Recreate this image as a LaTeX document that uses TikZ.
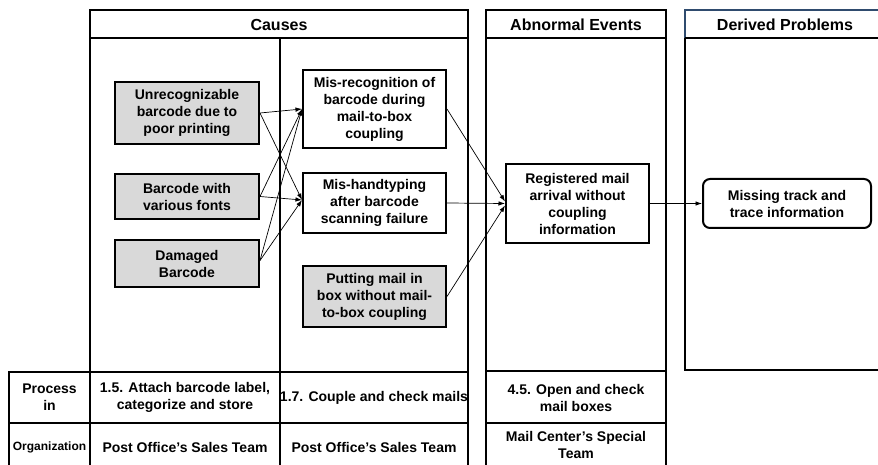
\documentclass[tikz,border=0pt]{standalone}
\usepackage{fontspec}
\setmainfont{Liberation Sans}
\usetikzlibrary{arrows.meta}
\definecolor{boxgray}{RGB}{217,217,217}
\definecolor{headblue}{RGB}{47,75,110}
\begin{document}
\begin{tikzpicture}[x=1pt,y=-1pt,
  frame/.style={line width=1.8pt},
  txt/.style={align=center, font=\bfseries\fontsize{14}{17}\selectfont},
  cause/.style={txt, draw, line width=2pt, fill=boxgray, inner sep=0pt},
  plainbox/.style={txt, draw, line width=2pt, fill=white, inner sep=0pt},
  hdr/.style={font=\bfseries\fontsize{16}{19}\selectfont},
  arr/.style={-{Latex[length=6.5pt,width=4.5pt]}, line width=0.7pt}]
\useasboundingbox (0,0) rectangle (878,465);

% Causes panel
\draw[frame] (90,465) -- (90,10) -- (468,10) -- (468,465);
\draw[frame] (90,38) -- (468,38);
\draw[frame] (280,38) -- (280,465);
\draw[frame] (9,465) -- (9,372) -- (468,372);
\draw[frame] (9,423) -- (468,423);
% Abnormal events panel
\draw[frame] (486,465) -- (486,10) -- (666,10) -- (666,465);
\draw[line width=2.6pt] (486,38) -- (666,38);
\draw[frame] (486,371) -- (666,371);
\draw[frame] (486,423) -- (666,423);
% Derived problems panel
\draw[frame] (685,38) -- (685,370) -- (880,370);
\draw[line width=1.4pt, headblue] (685,38) -- (685,10) -- (880,10);
\draw[line width=2.6pt] (685,38) -- (880,38);

% Headers
\node[hdr] (hc) at (279,25) {Causes};
\node[hdr] (ha) at (576,25) {Abnormal Events};
\node[hdr] (hd) at (785,25) {Derived Problems};

% Cause nodes
\node[cause, minimum width=144pt, minimum height=62pt] (n1) at (187,113) {Unrecognizable\\barcode due to\\poor printing};
\node[cause, minimum width=144pt, minimum height=45pt] (n2) at (187,196.5) {Barcode with\\various fonts};
\node[cause, minimum width=144pt, minimum height=47pt] (n3) at (187,263.5) {Damaged\\Barcode};
\node[plainbox, minimum width=143pt, minimum height=78pt] (m1) at (374.5,109) {Mis-recognition of\\barcode during\\mail-to-box\\coupling};
\node[plainbox, minimum width=143pt, minimum height=60pt] (m2) at (374.5,203) {Mis-handtyping\\after barcode\\scanning failure};
\node[cause, minimum width=143pt, minimum height=61pt] (m3) at (374.5,296.5) {Putting mail in\\box without mail-\\to-box coupling};
\node[plainbox, minimum width=143pt, minimum height=79pt] (r) at (577.5,203.5) {Registered mail\\arrival without\\coupling\\information};
\node[plainbox, rounded corners=7pt, minimum width=168pt, minimum height=49pt] (d) at (787,203.5) {Missing track and\\trace information};

% Arrows
\draw[arr] (n1.east) -- (m1.west);
\draw[arr] (n1.east) -- ([yshift=3pt]m2.west);
\draw[arr] (n2.east) -- (m1.west);
\draw[arr] (n2.east) -- ([yshift=3pt]m2.west);
\draw[arr] ([yshift=3pt]n3.east) -- (m1.west);
\draw[arr] ([yshift=3pt]n3.east) -- ([yshift=3pt]m2.west);
\draw[arr] (m1.east) -- ([yshift=2pt]r.west);
\draw[arr] (m2.east) -- (r.west);
\draw[arr] (m3.east) -- ([yshift=-2pt]r.west);
\draw[arr] (r.east) -- (d.west);

% Process / organization rows
\node[txt] (p0) at (49.5,397) {Process\\in};
\node[txt] (p1) at (185,397) {1.5. Attach barcode label,\\categorize and store};
\node[txt] (p2) at (374,398) {1.7. Couple and check mails};
\node[txt] (p3) at (576,398) {4.5. Open and check\\mail boxes};
\node[txt, font=\bfseries\fontsize{12}{14}\selectfont] (o0) at (49.5,447) {Organization};
\node[txt] (o1) at (185,447) {Post Office’s Sales Team};
\node[txt] (o2) at (374,447) {Post Office’s Sales Team};
\node[txt] (o3) at (576,445) {Mail Center’s Special\\Team};
\end{tikzpicture}
\end{document}
